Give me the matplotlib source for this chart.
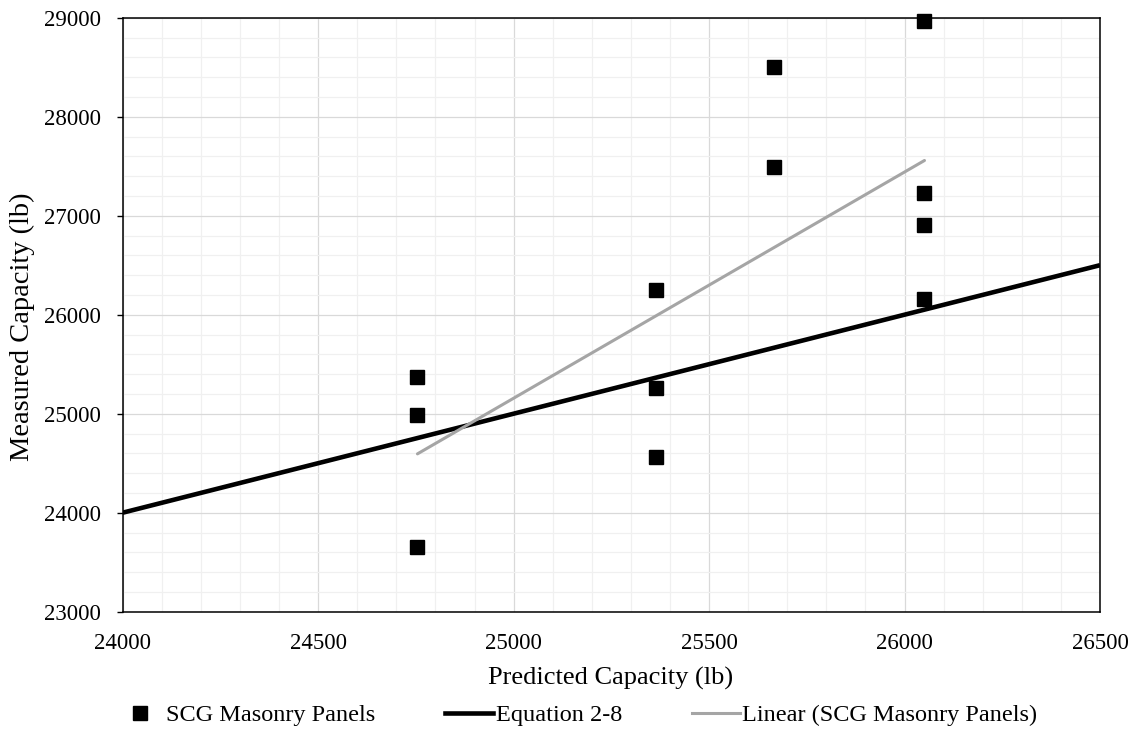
import numpy as np
import matplotlib
matplotlib.use("Agg")
import matplotlib.pyplot as plt
from matplotlib.lines import Line2D
from matplotlib.ticker import MultipleLocator

plt.rcParams["font.family"] = ["Liberation Serif", "DejaVu Serif"]

# --- data ---
predicted = [24754, 24754, 24754,
             25365, 25365, 25365,
             25665, 25665,
             26051, 26051, 26051, 26051]
measured = [25366, 24984, 23650,
            26251, 25255, 24564,
            28506, 27494,
            28967, 27230, 26909, 26160]
eq_x = [24000, 26500]   # Equation 2-8: measured = predicted
eq_y = [24000, 26500]

x_lim = (24000, 26500)
y_lim = (23000, 29000)

# --- figure ---
W, H = 1136, 731
fig = plt.figure(figsize=(W / 100, H / 100), dpi=100)
ax = fig.add_axes([122.7 / W, 1 - 611.7 / H, 977.3 / W, 594 / H])

# trendline (linear fit of the scatter)
k, b = np.polyfit(predicted, measured, 1)
tx = np.array([min(predicted), max(predicted)])
gray = "#A5A5A5"

ax.plot(eq_x, eq_y, color="black", lw=3.3, zorder=3, solid_capstyle="butt")
ax.plot(tx, k * tx + b, color=gray, lw=2.2, zorder=4, solid_capstyle="round")
ax.plot(predicted, measured, ls="none", marker="s", ms=10, color="black",
        zorder=5, clip_on=False)

ax.set_xlim(*x_lim)
ax.set_ylim(*y_lim)
ax.xaxis.set_major_locator(MultipleLocator(500))
ax.xaxis.set_minor_locator(MultipleLocator(100))
ax.yaxis.set_major_locator(MultipleLocator(1000))
ax.yaxis.set_minor_locator(MultipleLocator(200))

ax.grid(which="major", color="#D9D9D9", lw=0.9, zorder=0)
ax.grid(which="minor", color="#F0F0F0", lw=0.9, zorder=0)
ax.set_axisbelow(True)

ax.tick_params(axis="x", which="both", length=0, pad=15, labelsize=16.5)
ax.tick_params(axis="y", which="major", length=4.3, width=1.0, pad=11.5, labelsize=16.5)
ax.tick_params(axis="y", which="minor", length=0)

for s in ax.spines.values():
    s.set_linewidth(1.1)
    s.set_color("black")

fig.text(611 / W, 1 - 678 / H, "Predicted Capacity (lb)", ha="center", va="center",
         fontsize=19)
fig.text(22 / W, 1 - 327 / H, "Measured Capacity (lb)", ha="center", va="center",
         rotation=90, fontsize=20.5)

handles = [
    Line2D([], [], ls="none", marker="s", ms=10, color="black"),
    Line2D([], [], color="black", lw=3.3),
    Line2D([], [], color=gray, lw=2.2),
]
labels = ["SCG Masonry Panels", "Equation 2-8", "Linear (SCG Masonry Panels)"]
fig.legend(handles, labels, loc="center", bbox_to_anchor=(576.5 / W, 1 - 715 / H),
           ncol=3, frameon=False, fontsize=17.5, handlelength=1.97,
           handletextpad=0.1, columnspacing=2.88, borderpad=0, borderaxespad=0)

fig.savefig("out.png", dpi=100)
